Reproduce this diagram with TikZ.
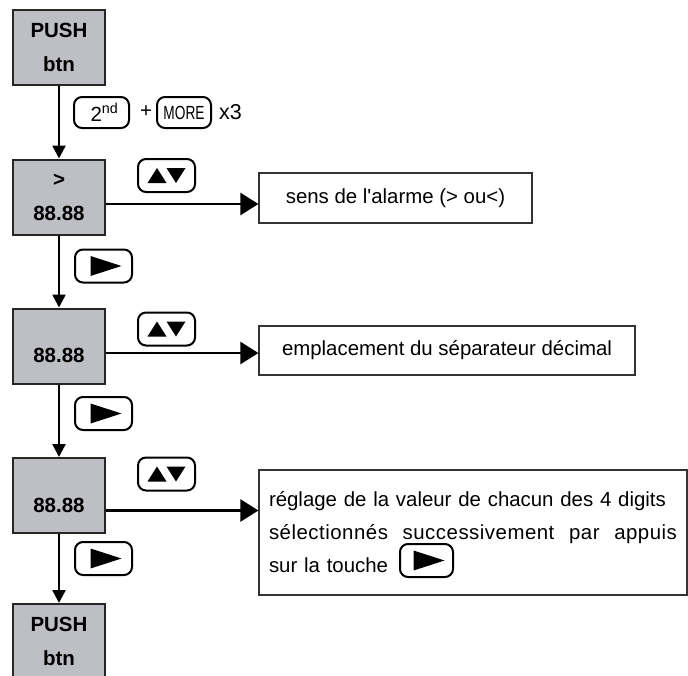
\documentclass[tikz,border=0pt]{standalone}
\usepackage{fontspec}
\usepackage{graphicx}
\setmainfont{Liberation Sans}[Ligatures=TeXOff]
\usetikzlibrary{arrows.meta}
\definecolor{grisaff}{RGB}{190,191,196}

\begin{document}
\begin{tikzpicture}[x=1pt, y=-1pt,
        aff/.style={draw=black!85, line width=2pt, fill=grisaff, minimum width=92pt, minimum height=75pt,
            inner sep=0pt, align=center, font=\bfseries\fontsize{20.5}{34}\selectfont},
        txt/.style={draw=black!80, line width=1.2pt, inner sep=0pt, font=\fontsize{20.4}{33}\selectfont},
        tch/.style={draw, line width=2pt, rounded corners=8pt, minimum width=57pt, minimum height=33pt, inner sep=0pt},
        ud/.style={tch, path picture={
            \fill[sharp corners] ([shift={(-19,7.5)}]path picture bounding box.center) -- ++(19,0) -- ++(-9.5,-15) -- cycle;
            \fill[sharp corners] ([shift={(0,-7.5)}]path picture bounding box.center) -- ++(19,0) -- ++(-9.5,15) -- cycle;}},
        dr/.style={tch, path picture={
            \fill[sharp corners] ([shift={(-13,-10)}]path picture bounding box.center) -- ++(0,20) -- ++(31,-10) -- cycle;}},
        fl/.style={line width=2.5pt, -{Triangle[length=13pt, width=13pt]}},
        fh/.style={line width=2.5pt, -{Triangle[length=18pt, width=22pt]}}]
    \useasboundingbox (0,0) rectangle (688,675);
    \clip (0,0) rectangle (688,675);
    % afficheurs
    \node[aff] (p1) at (59,47.5) {PUSH\\btn};
    \node[aff] (a1) at (59,197) {>\\88.88};
    \node[aff] (a2) at (59,346) {\mbox{}\\88.88};
    \node[aff] (a3) at (59,495.5) {\mbox{}\\88.88};
    \node[aff] (p2) at (59,641.5) {PUSH\\btn};
    % descente
    \draw[fl] (p1) -- (a1);
    \draw[fl] (a1) -- (a2);
    \draw[fl] (a2) -- (a3);
    \draw[fl] (a3) -- (p2);
    % touches
    \node[tch, minimum width=55pt, minimum height=31pt] (k2nd) at (101.5,112.5)
        {\hspace{6pt}\fontsize{20.5}{21}\selectfont 2\textsuperscript{nd}};
    \node[font=\fontsize{20.5}{21}\selectfont] (plus) at (146,112) {+};
    \node[tch, minimum width=54pt, minimum height=31pt] (kmore) at (184,112.5)
        {\scalebox{0.72}[1]{\fontsize{19}{19}\selectfont MORE}};
    \node[font=\fontsize{21.5}{22}\selectfont] (x3) at (230.5,112.5) {x3};
    \foreach \y [count=\i] in {175.5,329,474}   {\node[ud] (ud\i) at (166.5,\y) {};}
    \foreach \y [count=\i] in {266,413.5,558.5} {\node[dr] (dr\i) at (103.5,\y) {};}
    % textes
    \node[txt, minimum width=273pt, minimum height=50pt] (t1) at (395.5,198) {sens de l'alarme (> ou<)};
    \node[txt, minimum width=376pt, minimum height=49pt] (t2) at (447,350.5) {emplacement du séparateur décimal};
    \node[txt, text width=408pt, inner xsep=10pt, minimum height=125pt, align=left] (t3) at (473,532.5)
        {réglage de la valeur de chacun des 4 digits\\
         \makebox[408pt]{\addfontfeatures{LetterSpace=2.5}sélectionnés\hfill successivement\hfill par\hfill appuis}\\
         sur la touche};
    \node[dr, minimum width=53pt] (dr4) at (426.5,560.5) {};
    % vers les textes
    \draw[fh] ([yshift=-7pt]a1.east) coordinate (h1) -- (h1 -| t1.west);
    \draw[fh] ([yshift=-7pt]a2.east) coordinate (h2) -- (h2 -| t2.west);
    \draw[fh] ([yshift=-15pt]a3.east) coordinate (h3) -- (h3 -| t3.west);
\end{tikzpicture}
\end{document}
